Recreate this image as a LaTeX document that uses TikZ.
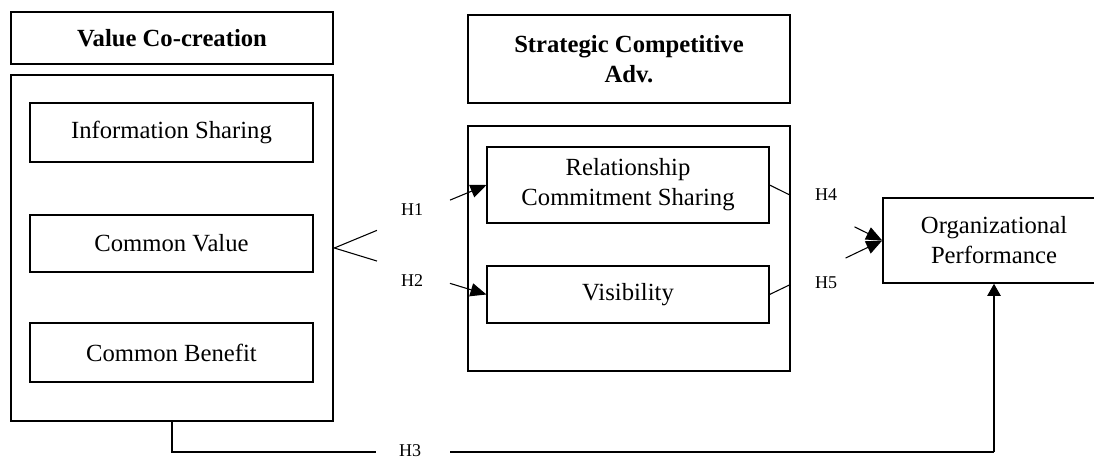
\documentclass[tikz,border=0pt]{standalone}
\usepackage{fontspec}
\setmainfont{Liberation Serif}
\usetikzlibrary{arrows.meta,calc}
\begin{document}
\begin{tikzpicture}[x=0.75pt,y=-0.75pt,
  thinbox/.style={draw, line width=0.8pt, align=center, inner sep=0pt,
    font=\fontsize{18.5}{22.5}\selectfont},
  titlebox/.style={thinbox, font=\fontsize{18.5}{22.5}\selectfont\bfseries},
  bigbox/.style={draw, line width=2pt, inner sep=0pt},
  conn/.style={line width=0.8pt},
  tip/.style={-{Triangle[length=12pt,width=10pt]}},
  hlabel/.style={font=\fontsize{13.5}{16}\selectfont, inner sep=0pt},
  h3line/.style={line width=2pt}]
\useasboundingbox (0,0) rectangle (1094,460);
\clip (0,0) rectangle (1094,460);
% left column
\node[titlebox, minimum width=241.5pt, minimum height=39pt] (vctitle) at (172,38) {Value Co-creation};
\node[bigbox, minimum width=241.5pt, minimum height=259.5pt] (vc) at (172,248) {};
\node[thinbox, minimum width=212.25pt, minimum height=44.25pt] (is) at (171.5,132.5) {Information Sharing};
\node[thinbox, minimum width=212.25pt, minimum height=42.75pt] (cv) at (171.5,243.5) {Common Value};
\node[thinbox, minimum width=212.25pt, minimum height=44.25pt] (cb) at (171.5,352.5) {Common Benefit};
% middle column
\node[titlebox, minimum width=241.5pt, minimum height=66pt] (sctitle) at (629,59) {Strategic Competitive\\Adv.};
\node[bigbox, minimum width=241.5pt, minimum height=183.75pt] (sca) at (629,248.5) {};
\node[thinbox, minimum width=211.5pt, minimum height=57pt] (rcs) at (628,185) {Relationship\\Commitment Sharing};
\node[thinbox, minimum width=211.5pt, minimum height=42.75pt] (vis) at (628,294.5) {Visibility};
% right
\node[thinbox, line width=1.2pt, minimum width=166.5pt, minimum height=63.75pt] (op) at (994,240.5) {Organizational\\Performance};
% labels
\node[hlabel] (h1) at (412,210) {H1};
\node[hlabel] (h2) at (412,281) {H2};
\node[hlabel] (h4) at (826,195) {H4};
\node[hlabel] (h5) at (826,283) {H5};
\node[hlabel] (h3) at (410,451) {H3};
% H1, H2
\draw[conn] (vc.east) -- ($(vc.east)!0.28!(rcs.west)$);
\draw[conn,tip] ($(vc.east)!0.76!(rcs.west)$) -- (rcs.west);
\draw[conn] (vc.east) -- ($(vc.east)!0.28!(vis.west)$);
\draw[conn,tip] ($(vc.east)!0.76!(vis.west)$) -- (vis.west);
% H4, H5
\draw[conn] (rcs.east) -- ($(rcs.east)!0.175!(op.west)$);
\draw[conn,tip] ($(rcs.east)!0.754!(op.west)$) -- (op.west);
\draw[conn] (vis.east) -- ($(vis.east)!0.175!(op.west)$);
\draw[conn,tip] ($(vis.east)!0.675!(op.west)$) -- (op.west);
% H3
\coordinate (h3w) at (376,452);
\coordinate (h3e) at (450,452);
\coordinate (h3c) at (994,452);
\draw[h3line] (vc.south) |- (h3w);
\draw[h3line] (h3e) -- (h3c);
\draw[conn,-{Triangle[length=9pt,width=10pt]}] (h3c) -- (op.south);
\end{tikzpicture}
\end{document}
